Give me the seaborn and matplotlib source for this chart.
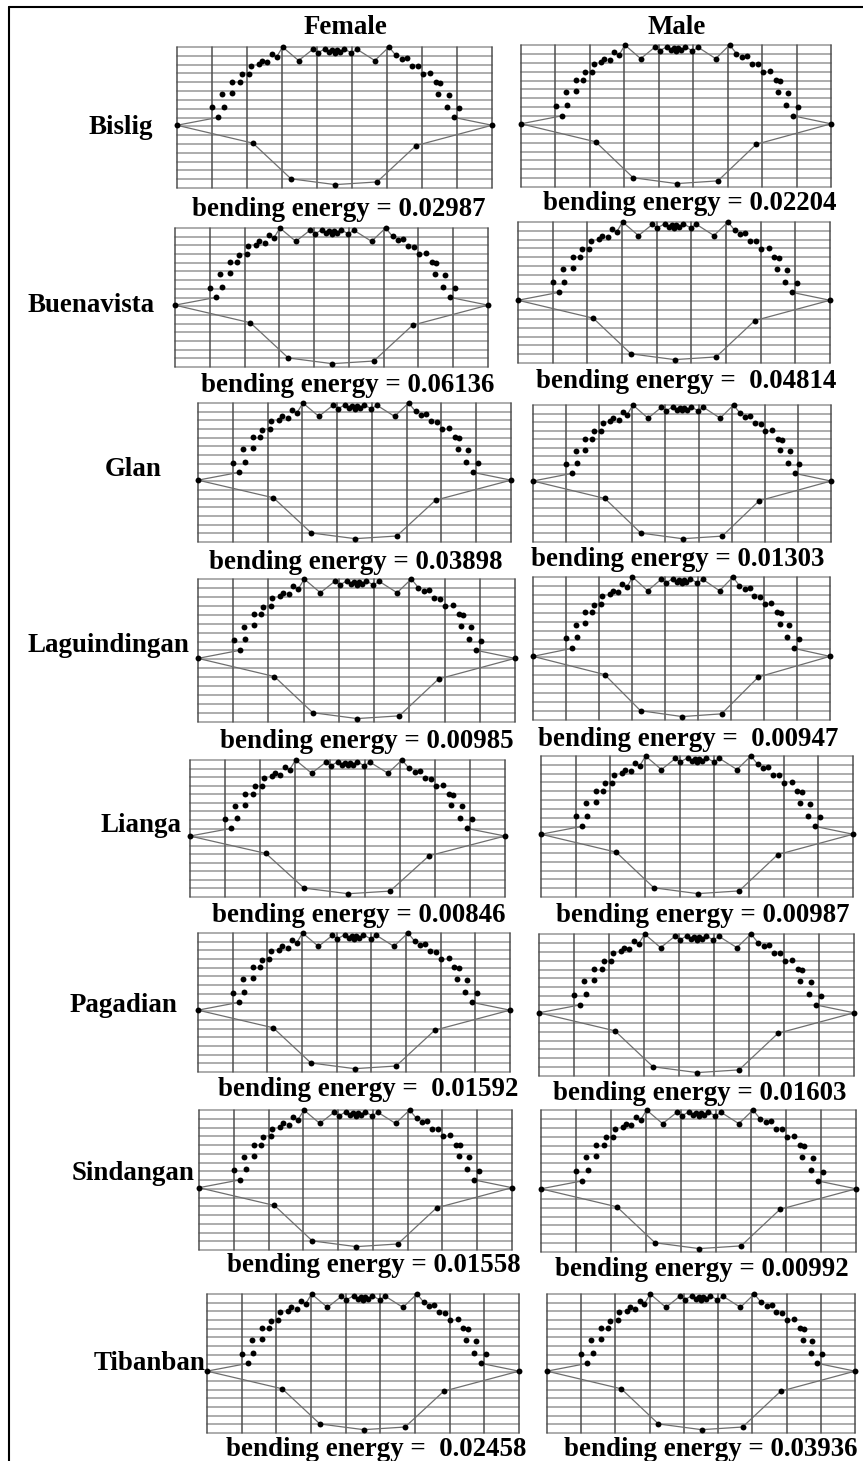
import numpy as np
import pandas as pd
import seaborn as sns
import matplotlib.pyplot as plt

# populations and bending energies
sites = ['Bislig', 'Buenavista', 'Glan', 'Laguindingan', 'Lianga', 'Pagadian', 'Sindangan', 'Tibanban']
female_energy = [0.02987, 0.06136, 0.03898, 0.00985, 0.00846, 0.01592, 0.01558, 0.02458]
male_energy = [0.02204, 0.04814, 0.01303, 0.00947, 0.00987, 0.01603, 0.00992, 0.03936]

# consensus landmark configuration (fraction of grid width / height, 0 = left / top)
lm_x = [0.000, 0.131, 0.112, 0.149, 0.144, 0.176, 0.176, 0.199, 0.205, 0.229, 0.234, 0.259,
        0.269, 0.287, 0.301, 0.316, 0.335, 0.386, 0.431, 0.447, 0.471, 0.484, 0.492, 0.500,
        0.508, 0.516, 0.529, 0.553, 0.572, 0.628, 0.673, 0.695, 0.713, 0.729, 0.745, 0.764,
        0.780, 0.803, 0.822, 0.835, 0.830, 0.862, 0.856, 0.894, 0.878, 1.000,
        0.241, 0.362, 0.502, 0.635, 0.759]
lm_y = [0.555, 0.499, 0.429, 0.422, 0.333, 0.325, 0.248, 0.248, 0.193, 0.188, 0.133, 0.120,
        0.096, 0.108, 0.048, 0.072, 0.000, 0.096, 0.017, 0.041, 0.012, 0.036, 0.022, 0.040,
        0.022, 0.036, 0.012, 0.041, 0.017, 0.096, 0.000, 0.060, 0.084, 0.080, 0.133, 0.137,
        0.188, 0.181, 0.248, 0.253, 0.330, 0.337, 0.422, 0.434, 0.499, 0.555,
        0.682, 0.935, 0.976, 0.957, 0.699]

# thin links between landmarks (indices into lm_x / lm_y)
links = [
    [0, 1],
    [15, 16, 17, 18, 19, 20, 21, 22, 23, 24, 25, 26, 27, 28, 29, 30, 31],
    [44, 45],
    [0, 46, 47, 48, 49, 50, 45],
]

# grid boxes in pixels (left, top, right, bottom)
female_box = [(177, 47, 492, 188), (175, 228, 488, 367), (198, 403, 511, 542), (198, 579, 515, 722),
              (190, 760, 505, 897), (198, 933, 510, 1072), (199, 1110, 512, 1250), (207, 1294, 519, 1433)]
male_box = [(521, 45, 831, 187), (518, 222, 830, 363), (533, 405, 831, 542), (533, 577, 830, 720),
            (541, 756, 853, 897), (539, 934, 854, 1076), (541, 1110, 856, 1252), (547, 1294, 855, 1433)]

# label positions in pixels
female_lab = [(339, 209), (348, 386), (356, 563), (367, 741), (359, 916), (368, 1089), (374, 1266), (376, 1449)]
male_lab = [(690, 203), (686, 381), (678, 559), (688, 739), (703, 916), (700, 1093), (702, 1270), (711, 1449)]
female_gap = [' ', ' ', ' ', ' ', ' ', '  ', ' ', '  ']
male_gap = [' ', '  ', ' ', '  ', ' ', ' ', ' ', ' ']
site_lab = [(88, 127), (27, 305), (105, 469), (28, 646), (100, 826), (70, 1005), (72, 1173), (94, 1363)]

W, H = 863, 1461
sns.set_theme(style='white')
plt.rcParams['font.family'] = ['Liberation Serif', 'DejaVu Serif']
plt.rcParams['text.color'] = 'black'

fig = plt.figure(figsize=(W / 100, H / 100), dpi=100)
fig.patch.set_facecolor('white')

lm = pd.DataFrame({'x': lm_x, 'y': lm_y})
fs = 19.4


def draw_panel(box):
    l, t, r, b = box
    ax = fig.add_axes([l / W, 1 - b / H, (r - l) / W, (b - t) / H])
    ax.axis('off')
    for gy in np.linspace(0, 1, 17):
        ax.plot([0, 1], [gy, gy], color='#a6a6a6', lw=1.3, zorder=1, clip_on=False)
    for gx in np.linspace(0, 1, 10):
        ax.plot([gx, gx], [0, 1], color='#505050', lw=1.1, zorder=1, clip_on=False)
    for lk in links:
        seg = lm.iloc[lk]
        sns.lineplot(x=seg['x'].values, y=seg['y'].values, sort=False, estimator=None,
                     color='#6e6e6e', lw=0.9, ax=ax, zorder=2)
    sns.scatterplot(data=lm, x='x', y='y', color='black', s=18, linewidth=0, ax=ax,
                    zorder=3, clip_on=False)
    ax.set_xlabel('')
    ax.set_ylabel('')
    ax.set_xlim(0, 1)
    ax.set_ylim(1, 0)


for i, site in enumerate(sites):
    draw_panel(female_box[i])
    draw_panel(male_box[i])
    fig.text(female_lab[i][0] / W, 1 - female_lab[i][1] / H,
             'bending energy =' + female_gap[i] + f'{female_energy[i]:.5f}',
             ha='center', va='center', fontsize=fs, fontweight='bold', color='black')
    fig.text(male_lab[i][0] / W, 1 - male_lab[i][1] / H,
             'bending energy =' + male_gap[i] + f'{male_energy[i]:.5f}',
             ha='center', va='center', fontsize=fs, fontweight='bold', color='black')
    fig.text(site_lab[i][0] / W, 1 - site_lab[i][1] / H, site,
             ha='left', va='center', fontsize=fs, fontweight='bold', color='black')

fig.text(345 / W, 1 - 27 / H, 'Female', ha='center', va='center', fontsize=fs,
         fontweight='bold', color='black')
fig.text(677 / W, 1 - 27 / H, 'Male', ha='center', va='center', fontsize=fs,
         fontweight='bold', color='black')

# outer frame (left and top edges)
fig.add_artist(plt.Line2D([9 / W, 9 / W], [0, 1 - 7 / H], color='black', lw=1.5))
fig.add_artist(plt.Line2D([9 / W, 1], [1 - 7 / H, 1 - 7 / H], color='black', lw=1.5))

fig.savefig('out.png', dpi=100)
